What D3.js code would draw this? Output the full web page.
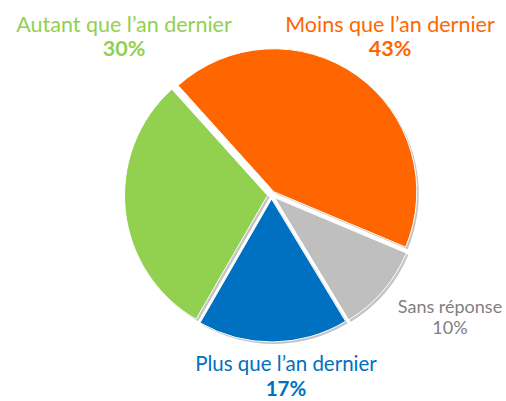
<!DOCTYPE html>
<html>
<head>
<meta charset="utf-8">
<script src="https://cdn.jsdelivr.net/npm/d3@7"></script>
<style>
  body { margin: 0; background: #fff; }
  text { font-family: Lato, "Noto Sans", sans-serif; }
</style>
</head>
<body>
<div id="chart"></div>
<script>
const width = 506, height = 401;

// données
const categories = ["Moins que l\u2019an dernier", "Sans réponse", "Plus que l\u2019an dernier", "Autant que l\u2019an dernier"];
const values = [43, 10, 17, 30];
const colors = ["#ff6600", "#bfbfbf", "#0070c0", "#92d050"];
const textColors = ["#ff6600", "#7f7f7f", "#0070c0", "#92d050"];

const cx = 271.5, cy = 195, radius = 143, explode = 4;

const svg = d3.select("#chart").append("svg")
    .attr("width", width)
    .attr("height", height);

const pie = d3.pie()
    .sort(null)
    .startAngle(-42 * Math.PI / 180)
    .endAngle(318 * Math.PI / 180)
    .value(d => d);

const arc = d3.arc()
    .innerRadius(0)
    .outerRadius(radius);

const arcs = pie(values);

const g = svg.append("g")
    .attr("transform", "translate(" + cx + "," + cy + ")");

function offset(d) {
  const a = (d.startAngle + d.endAngle) / 2;
  return [Math.sin(a) * explode, -Math.cos(a) * explode];
}

// ombres
g.selectAll("path.shadow")
    .data(arcs)
    .join("path")
    .attr("class", "shadow")
    .attr("d", arc)
    .attr("fill", "#c4c4c4")
    .attr("transform", d => {
      const o = offset(d);
      return "translate(" + (o[0] + 2) + "," + (o[1] + 2) + ")";
    });

g.selectAll("path.slice")
    .data(arcs)
    .join("path")
    .attr("class", "slice")
    .attr("d", arc)
    .attr("fill", (d, i) => colors[i])
    .attr("stroke", "#fff")
    .attr("stroke-width", 1)
    .attr("transform", d => "translate(" + offset(d) + ")");

// étiquettes
const labelPos = [
  {x: 390, y: 32, y2: 56, size: 21.5},
  {x: 450, y: 313, y2: 334, size: 18},
  {x: 286, y: 371, y2: 396, size: 20.5},
  {x: 124, y: 32, y2: 56, size: 21.5}
];

categories.forEach((c, i) => {
  const p = labelPos[i];
  svg.append("text")
      .attr("x", p.x).attr("y", p.y)
      .attr("text-anchor", "middle")
      .attr("font-size", p.size)
      .attr("fill", textColors[i])
      .text(c);
  svg.append("text")
      .attr("x", p.x).attr("y", p.y2)
      .attr("text-anchor", "middle")
      .attr("font-size", p.size)
      .attr("font-weight", i === 1 ? "normal" : "bold")
      .attr("fill", textColors[i])
      .text(values[i] + "%");
});
</script>
</body>
</html>
